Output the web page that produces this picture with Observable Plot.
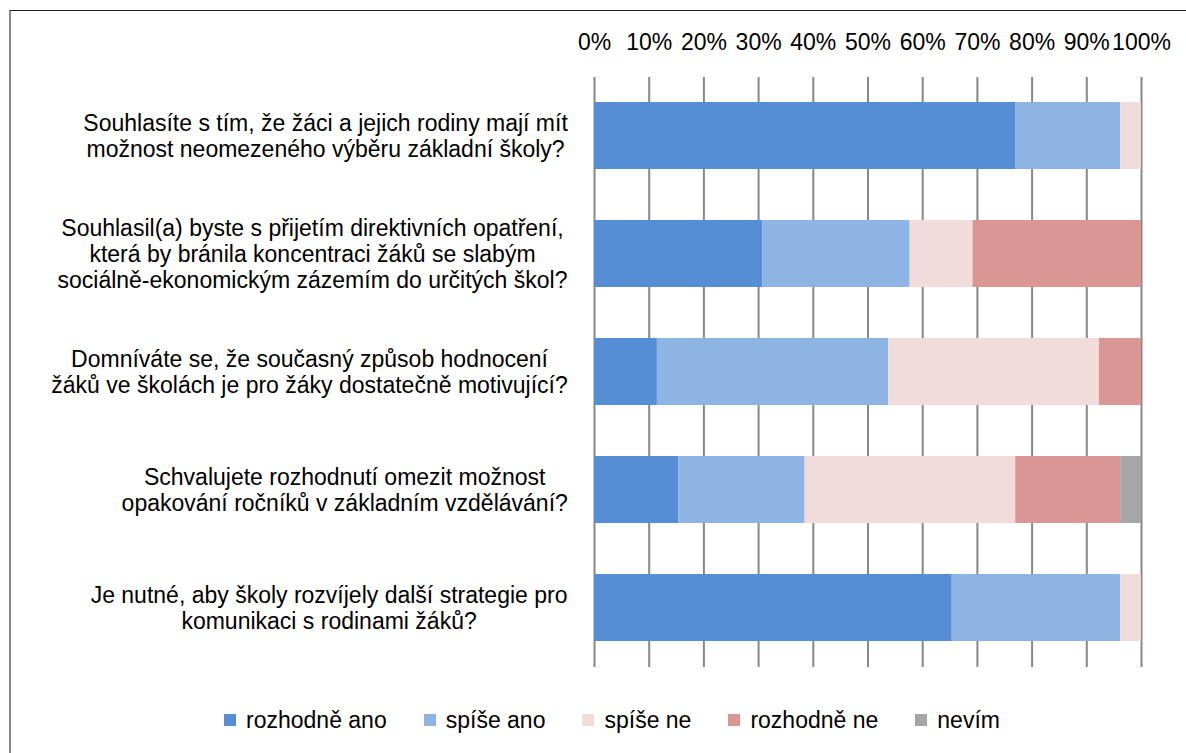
<!DOCTYPE html>
<html>
<head>
<meta charset="utf-8">
<script src="https://cdn.jsdelivr.net/npm/d3@7"></script>
<script src="https://cdn.jsdelivr.net/npm/@observablehq/plot@0.6"></script>
<style>
  html, body { margin: 0; padding: 0; background: #fff; }
  body { width: 1186px; height: 753px; position: relative; overflow: hidden; font-family: "Liberation Sans", sans-serif; }
  #frame { position: absolute; left: 9px; top: 10px; width: 1300px; height: 900px; border-top: 1px solid #222; border-left: 2px solid #8c8c8c; pointer-events: none; }
  #chart { position: absolute; left: 0; top: 0; }
  #legend { position: absolute; left: 0; top: 700px; width: 1186px; height: 40px; display: flex; justify-content: center; align-items: center; padding-left: 38px; box-sizing: border-box; font-size: 23px; color: #000; }
  .item { display: flex; align-items: center; margin: 0 18.5px; }
  .sw { width: 12px; height: 12px; margin-right: 10px; }
  svg text { font-size: 23px; }
</style>
</head>
<body>
<div id="frame"></div>
<div id="chart"></div>
<div id="legend"></div>
<script>
const questions = [
  "Souhlasíte s tím, že žáci a jejich rodiny mají mít\nmožnost neomezeného výběru základní školy?",
  "Souhlasil(a) byste s přijetím direktivních opatření,\nkterá by bránila koncentraci žáků se slabým\nsociálně-ekonomickým zázemím do určitých škol?",
  "Domníváte se, že současný způsob hodnocení\nžáků ve školách je pro žáky dostatečně motivující?",
  "Schvalujete rozhodnutí omezit možnost\nopakování ročníků v základním vzdělávání?",
  "Je nutné, aby školy rozvíjely další strategie pro\nkomunikaci s rodinami žáků?"
];
const categories = ["rozhodně ano", "spíše ano", "spíše ne", "rozhodně ne", "nevím"];
const colors = ["#558ED5", "#8EB4E3", "#F2DCDB", "#D99694", "#A6A6A6"];
const rozhodneAno = [76.9, 30.8, 11.5, 15.4, 65.4];
const spiseAno   = [19.2, 26.9, 42.3, 23.1, 30.8];
const spiseNe    = [3.8, 11.5, 38.5, 38.5, 3.8];
const rozhodneNe = [0, 30.8, 7.7, 19.2, 0];
const nevim      = [0, 0, 0, 3.8, 0];
const xTicks = [0, 0.1, 0.2, 0.3, 0.4, 0.5, 0.6, 0.7, 0.8, 0.9, 1];

const series = [rozhodneAno, spiseAno, spiseNe, rozhodneNe, nevim];
const data = [];
questions.forEach((q, i) => {
  categories.forEach((c, j) => {
    data.push({question: q, category: c, value: series[j][i]});
  });
});

const plot = Plot.plot({
  width: 1186,
  height: 697,
  marginTop: 77,
  marginBottom: 30,
  marginLeft: 594,
  marginRight: 45,
  style: {fontFamily: "'Liberation Sans', sans-serif", fontSize: "23px", color: "#000", background: "transparent"},
  x: {domain: [0, 1], axis: null},
  y: {domain: questions, paddingInner: 0.43, paddingOuter: 0.215, axis: null},
  color: {domain: categories, range: colors},
  marks: [
    Plot.ruleX(xTicks, {stroke: "#888888", strokeWidth: 2}),
    Plot.barX(data, Plot.stackX({offset: "normalize", order: categories, x: "value", y: "question", fill: "category"})),
    Plot.axisX(xTicks, {anchor: "top", tickFormat: d3.format(".0%"), tickSize: 0, tickPadding: 28, fontSize: 23, label: null}),
    Plot.axisY({tickSize: 0, tickPadding: 27, lineHeight: 1.13, fontSize: 23, label: null})
  ]
});
document.getElementById("chart").appendChild(plot);

// center each multi-line question block, keeping its right edge next to the axis
plot.querySelectorAll('g[aria-label="y-axis tick label"] text').forEach(t => {
  const b = t.getBBox();
  const cx = b.x + b.width / 2;
  t.setAttribute("text-anchor", "middle");
  const spans = t.querySelectorAll("tspan");
  if (spans.length) spans.forEach(s => s.setAttribute("x", cx));
  else t.setAttribute("x", cx);
});

const legend = document.getElementById("legend");
categories.forEach((c, j) => {
  const it = document.createElement("div");
  it.className = "item";
  const sw = document.createElement("div");
  sw.className = "sw";
  sw.style.background = colors[j];
  const lab = document.createElement("span");
  lab.textContent = c;
  it.appendChild(sw);
  it.appendChild(lab);
  legend.appendChild(it);
});
</script>
</body>
</html>
